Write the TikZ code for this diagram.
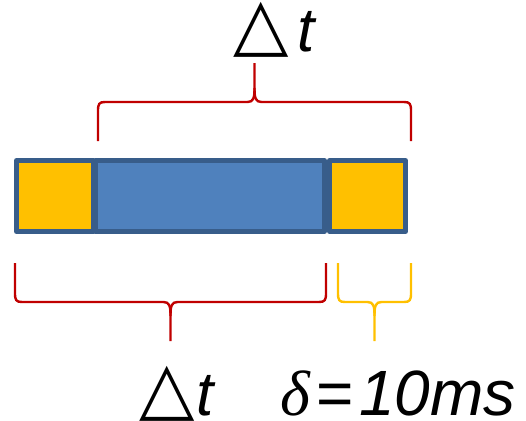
\documentclass[tikz,border=0pt]{standalone}
\usepackage{fontspec}
\setmainfont{Liberation Sans}
\newfontfamily\dejavu{DejaVu Sans}
\newfontfamily\serifgr{Liberation Serif}
\definecolor{bracered}{HTML}{C00000}
\definecolor{braceyellow}{HTML}{FFC000}
\definecolor{boxblue}{HTML}{4F81BD}
\definecolor{boxedge}{HTML}{385D8A}
\definecolor{boxyellow}{HTML}{FFC000}
\newcommand{\pbrace}[6]{%
  \pgfmathsetmacro\bd{sign(#5-#4)}%
  \pgfmathsetmacro\bm{(#1+#2)/2}%
  \draw[bracestyle,#6] (#1,#3) -- (#1,#4-9*\bd) .. controls (#1,#4-2*\bd) and (#1+1,#4) .. (#1+7,#4)
    -- (\bm-7,#4) .. controls (\bm-1,#4) and (\bm,#4+4*\bd) .. (\bm,#4+14*\bd) -- (\bm,#5);
  \draw[bracestyle,#6] (\bm,#4+14*\bd) .. controls (\bm,#4+4*\bd) and (\bm+1,#4) .. (\bm+7,#4)
    -- (#2-7,#4) .. controls (#2-1,#4) and (#2,#4-2*\bd) .. (#2,#4-9*\bd) -- (#2,#3);
}
\newcommand{\tri}[1]{\raisebox{#1}{\dejavu\fontsize{72}{72}\selectfont △}}
\begin{document}
\begin{tikzpicture}[x=1pt,y=-1pt,
  bracestyle/.style={line width=2.4pt},
  cell/.style={draw=boxedge,line width=5pt,line join=round},
  lbl/.style={inner sep=0pt,anchor=base west,font=\fontsize{62}{62}\selectfont}]
\useasboundingbox (0,0) rectangle (526,420);
% bar
\path[cell,fill=boxyellow] (16.5,160.5) rectangle (93.5,231.5);
\path[cell,fill=boxblue] (95.5,160.5) rectangle (324.5,231.5);
\path[cell,fill=boxyellow] (329.5,160.5) rectangle (405.5,231.5);
% braces
\pbrace{98}{411}{141}{102}{63}{bracered}
\pbrace{15}{326}{263}{302}{341}{bracered}
\pbrace{338}{411}{263}{302}{341}{braceyellow}
% labels
\node[lbl] (top) at (233,52) {\tri{3pt}\kern9pt\textit{t}};
\node[lbl] (bl) at (139,415) {\tri{3pt}\kern2pt\textit{t}};
\node[lbl,font=\fontsize{64}{64}\selectfont] (br) at (280,415) {{\serifgr\itshape δ}\kern7pt=\kern5pt\textit{10ms}};
\end{tikzpicture}
\end{document}
